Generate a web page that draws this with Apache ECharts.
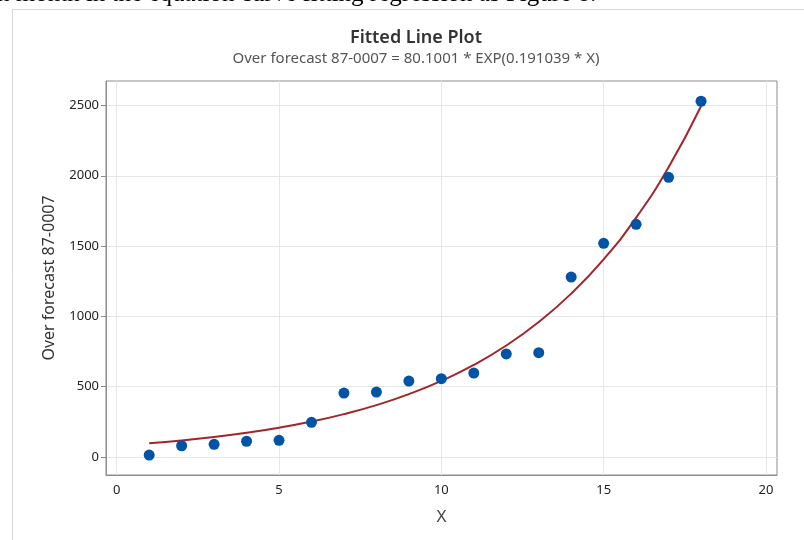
<!DOCTYPE html>
<html>
<head>
<meta charset="utf-8">
<title>Fitted Line Plot</title>
<script src="https://cdn.jsdelivr.net/npm/echarts@6/dist/echarts.min.js"></script>
<style>
  html, body { margin: 0; padding: 0; background: #fff; }
  #chart { width: 804px; height: 540px; }
</style>
</head>
<body>
<div id="chart"></div>
<script>
var xValues = [1, 2, 3, 4, 5, 6, 7, 8, 9, 10, 11, 12, 13, 14, 15, 16, 17, 18];
var yValues = [14, 80, 90, 112, 119, 247, 455, 462, 540, 557, 597, 733, 742, 1280, 1520, 1655, 1989, 2530];

// fitted curve, read at each x from the red line
var fitValues = [97, 117, 142, 172, 208, 252, 305, 369, 447, 541, 655, 793, 960, 1162, 1406, 1702, 2061, 2494];

var xTicks = [0, 5, 10, 15, 20];
var yTicks = [0, 500, 1000, 1500, 2000, 2500];

var chartTitle = "Fitted Line Plot";
var chartSubtitle = "Over forecast 87-0007 = 80.1001 * EXP(0.191039 * X)";
var yName = "Over forecast 87-0007";
var xName = "X";
var pageText = "h month in the equation curve fitting regression as Figure 8.";

var voChart = echarts.init(document.getElementById("chart"));

var fontUI = "'Noto Sans', 'Open Sans', sans-serif";

var voOption = {
    animation: false,
    backgroundColor: "#fff",
    title: {
        text: chartTitle,
        subtext: chartSubtitle,
        left: 411,
        top: 24,
        textAlign: "center",
        itemGap: 4,
        textStyle: {
            fontFamily: fontUI,
            fontSize: 18,
            fontWeight: 600,
            color: "#333"
        },
        subtextStyle: {
            fontFamily: fontUI,
            fontSize: 15,
            color: "#555"
        }
    },
    graphic: [
        {
            type: "rect",
            shape: { x: 12.5, y: 9.5, width: 900, height: 700 },
            style: { fill: "none", stroke: "#d8d8d8", lineWidth: 1 },
            silent: true
        },
        {
            type: "text",
            left: -3,
            top: -18,
            style: {
                text: pageText,
                font: "25px 'Liberation Serif', serif",
                fill: "#000"
            },
            silent: true
        }
    ],
    grid: {
        left: 106,
        right: 27,
        top: 81,
        bottom: 65,
        show: true,
        borderColor: "#8c8c8c",
        borderWidth: 1
    },
    xAxis: {
        type: "value",
        min: -0.33,
        max: 20.34,
        name: xName,
        nameLocation: "middle",
        nameGap: 34,
        nameTextStyle: { fontFamily: fontUI, fontSize: 17, color: "#444" },
        axisLine: { show: true, onZero: false, lineStyle: { color: "#8c8c8c" } },
        axisTick: { show: false, customValues: xTicks },
        axisLabel: {
            customValues: xTicks,
            margin: 9,
            fontFamily: fontUI,
            fontSize: 13,
            color: "#222"
        },
        splitLine: { show: true, lineStyle: { color: "#e6e6e6" } }
    },
    yAxis: {
        type: "value",
        min: -128,
        max: 2674,
        name: yName,
        nameLocation: "middle",
        nameGap: 49,
        nameTextStyle: { fontFamily: fontUI, fontSize: 16, color: "#333" },
        axisLine: { show: true, onZero: false, lineStyle: { color: "#8c8c8c" } },
        axisTick: { show: true, length: 5, customValues: yTicks, lineStyle: { color: "#8c8c8c" } },
        axisLabel: {
            customValues: yTicks,
            margin: 7,
            fontFamily: fontUI,
            fontSize: 13,
            color: "#222",
            formatter: function(v){ return String(v); }
        },
        splitLine: { show: true, lineStyle: { color: "#e6e6e6" } }
    },
    series: [
        {
            name: "Fit",
            type: "line",
            smooth: true,
            showSymbol: false,
            data: xValues.map(function(x, i){ return [x, fitValues[i]]; }),
            lineStyle: { color: "#a1262b", width: 2 },
            z: 2
        },
        {
            name: "Data",
            type: "scatter",
            symbolSize: 11,
            data: xValues.map(function(x, i){ return [x, yValues[i]]; }),
            itemStyle: { color: "#0054a6", opacity: 1 },
            z: 3
        }
    ]
};

voChart.setOption(voOption);
</script>
</body>
</html>
